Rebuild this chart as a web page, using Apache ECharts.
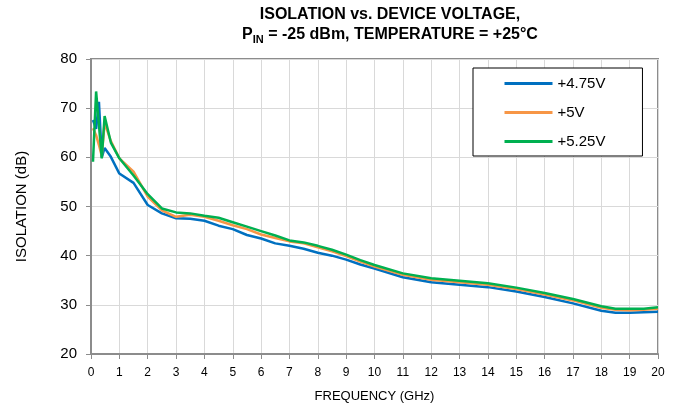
<!DOCTYPE html>
<html>
<head>
<meta charset="utf-8">
<script src="https://cdn.jsdelivr.net/npm/echarts@6/dist/echarts.min.js"></script>
<style>
  html, body { margin: 0; padding: 0; background: #fff; }
  #chart { width: 680px; height: 409px; }
</style>
</head>
<body>
<div id="chart"></div>
<script>
// 频率点 (GHz)
var freq = [0.07, 0.18, 0.28, 0.38, 0.48, 0.7, 1, 1.5, 2, 2.5, 3, 3.5, 4, 4.5, 5, 5.5, 6, 6.5, 7, 7.5, 8, 8.5, 9, 9.5, 10, 11, 12, 13, 14, 15, 16, 17, 18, 18.5, 19, 19.5, 20]
// 隔离度 (dB)
var iso475 = [67.6, 65.8, 71.3, 60.0, 61.9, 60.1, 56.7, 54.8, 50.3, 48.6, 47.6, 47.5, 47.1, 46.1, 45.4, 44.2, 43.5, 42.5, 42.0, 41.4, 40.6, 40.0, 39.2, 38.2, 37.4, 35.6, 34.6, 34.1, 33.6, 32.7, 31.6, 30.3, 28.8, 28.4, 28.4, 28.5, 28.6]
var iso500 = [65.9, 64.5, 62.5, 60.3, 67.0, 63.3, 59.8, 57.1, 52.0, 49.2, 47.9, 48.3, 47.9, 47.1, 46.2, 45.4, 44.3, 43.6, 42.9, 42.5, 41.7, 40.9, 39.9, 38.8, 37.8, 36.1, 35.1, 34.6, 34.1, 33.2, 32.1, 30.9, 29.4, 29.0, 28.9, 29.0, 29.2]
var iso525 = [59.1, 73.4, 66.6, 59.8, 68.4, 63.0, 59.8, 56.3, 52.5, 49.6, 48.8, 48.6, 48.1, 47.7, 46.8, 45.9, 45.0, 44.1, 43.1, 42.7, 42.0, 41.2, 40.2, 39.1, 38.1, 36.4, 35.4, 34.9, 34.4, 33.5, 32.4, 31.2, 29.7, 29.2, 29.2, 29.2, 29.5]
var names = ['+4.75V', '+5V', '+5.25V']
var colors = ['#0070C0', '#F79646', '#00B050']

var FONT = 'Liberation Sans, Arial, sans-serif'
var AXIS_GRAY = '#8c8c8c'

function pair(ys) {
  return freq.map(function (f, i) { return [f, ys[i]] })
}

var option = {
  animation: false,
  backgroundColor: '#fff',
  title: {
    left: 385,
    top: 0,
    textAlign: 'center',
    text: '{t|ISOLATION vs. DEVICE VOLTAGE,}\n{t|P}{s|IN}{t| = -25 dBm, TEMPERATURE = +25°C}',
    textStyle: {
      rich: {
        t: { fontFamily: FONT, fontSize: 16, fontWeight: 'bold', color: '#000', lineHeight: 20 },
        s: { fontFamily: FONT, fontSize: 11, fontWeight: 'bold', color: '#000', lineHeight: 20, verticalAlign: 'bottom', padding: [6, 0, 0, 0] }
      }
    }
  },
  legend: {
    orient: 'vertical',
    left: 473,
    top: 68,
    padding: [8, 37, 7, 30],
    itemWidth: 48,
    itemHeight: 14,
    itemGap: 14,
    borderColor: '#000',
    borderWidth: 1,
    backgroundColor: '#fff',
    itemStyle: { opacity: 0 },
    lineStyle: { width: 3 },
    textStyle: { fontFamily: FONT, fontSize: 15, color: '#000' },
    data: names
  },
  grid: {
    left: 91,
    right: 22,
    top: 59,
    bottom: 55,
    show: true,
    borderColor: AXIS_GRAY,
    borderWidth: 2
  },
  xAxis: {
    type: 'value',
    min: 0,
    max: 20,
    interval: 1,
    name: 'FREQUENCY (GHz)',
    nameLocation: 'middle',
    nameGap: 36,
    nameTextStyle: { fontFamily: FONT, fontSize: 13, color: '#000' },
    axisLine: { lineStyle: { color: AXIS_GRAY, width: 2 } },
    axisTick: { show: true, length: 5, lineStyle: { color: AXIS_GRAY, width: 1 } },
    axisLabel: { fontFamily: FONT, fontSize: 12, color: '#000', margin: 13 },
    splitLine: { show: true, lineStyle: { color: '#d9d9d9', width: 1 } }
  },
  yAxis: {
    type: 'value',
    min: 20,
    max: 80,
    interval: 10,
    name: 'ISOLATION (dB)',
    nameLocation: 'middle',
    nameGap: 62,
    nameTextStyle: { fontFamily: FONT, fontSize: 15, color: '#000' },
    axisLine: { show: true, lineStyle: { color: AXIS_GRAY, width: 2 } },
    axisTick: { show: true, length: 5, lineStyle: { color: AXIS_GRAY, width: 1 } },
    axisLabel: { fontFamily: FONT, fontSize: 15, color: '#000', margin: 14 },
    splitLine: { show: true, lineStyle: { color: '#d9d9d9', width: 1 } }
  },
  series: [iso475, iso500, iso525].map(function (ys, i) {
    return {
      name: names[i],
      type: 'line',
      data: pair(ys),
      symbol: 'none',
      color: colors[i],
      lineStyle: { color: colors[i], width: 2.5 }
    }
  })
}

var chart = echarts.init(document.getElementById('chart'))
chart.setOption(option)
</script>
</body>
</html>
